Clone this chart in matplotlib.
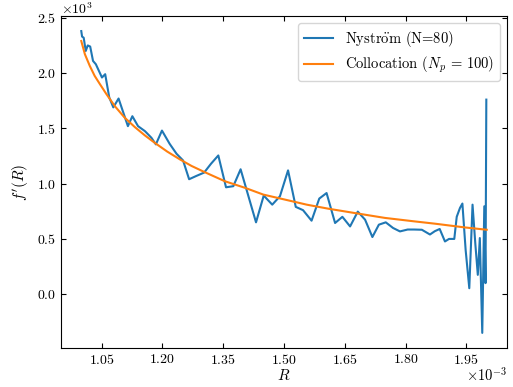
import matplotlib
matplotlib.use("Agg")
import matplotlib.pyplot as plt

plt.rcParams['font.family'] = ['cmr10', 'DejaVu Serif']
plt.rcParams['mathtext.fontset'] = 'cm'
plt.rcParams['axes.formatter.use_mathtext'] = True
plt.rcParams['axes.unicode_minus'] = False
plt.rcParams['font.size'] = 10

# Nystrom solution (R in units of 1e-3, f' in units of 1e3)
nys_R = [1.000, 1.002, 1.006, 1.011, 1.016, 1.022, 1.029, 1.036, 1.051, 1.059,
         1.069, 1.079, 1.092, 1.115, 1.126, 1.140, 1.157, 1.173, 1.184, 1.199,
         1.218, 1.235, 1.251, 1.266, 1.284, 1.303, 1.320, 1.338, 1.357, 1.375,
         1.393, 1.412, 1.431, 1.450, 1.471, 1.490, 1.510, 1.529, 1.547, 1.568,
         1.587, 1.605, 1.626, 1.644, 1.663, 1.682, 1.700, 1.718, 1.734, 1.751,
         1.769, 1.786, 1.805, 1.821, 1.840, 1.860, 1.872, 1.884, 1.897, 1.907,
         1.920, 1.926, 1.934, 1.940, 1.948, 1.957, 1.965, 1.972, 1.978, 1.983,
         1.989, 1.994, 1.997, 1.999]
nys_f = [2.38, 2.33, 2.32, 2.20, 2.25, 2.24, 2.11, 2.08, 1.96, 1.99,
         1.78, 1.69, 1.77, 1.52, 1.61, 1.52, 1.475, 1.415, 1.355, 1.48,
         1.36, 1.27, 1.21, 1.04, 1.07, 1.10, 1.18, 1.255, 0.967, 0.977,
         1.13, 0.89, 0.65, 0.892, 0.81, 0.886, 1.12, 0.79, 0.76, 0.665,
         0.865, 0.915, 0.644, 0.70, 0.613, 0.747, 0.674, 0.517, 0.629, 0.65,
         0.599, 0.568, 0.585, 0.585, 0.583, 0.54, 0.57, 0.59, 0.477, 0.50,
         0.50, 0.70, 0.78, 0.82, 0.40, 0.054, 0.81, 0.45, 0.175, 0.508,
         -0.35, 0.795, 0.10, 1.76]

# Collocation solution
col_R = [1.000, 1.009, 1.021, 1.033, 1.046, 1.062, 1.083, 1.107, 1.132, 1.157,
         1.181, 1.212, 1.243, 1.272, 1.305, 1.354, 1.404, 1.449, 1.502, 1.556,
         1.610, 1.683, 1.749, 1.821, 1.872, 1.946, 2.000]
col_f = [2.29, 2.17, 2.065, 1.975, 1.90, 1.81, 1.70, 1.597, 1.512, 1.436,
         1.37, 1.29, 1.22, 1.16, 1.103, 1.022, 0.962, 0.901, 0.856, 0.81,
         0.773, 0.729, 0.69, 0.659, 0.638, 0.604, 0.583]

x_ticks = [1.05, 1.20, 1.35, 1.50, 1.65, 1.80, 1.95]

fig = plt.figure(figsize=(5.13, 3.87), dpi=100)
ax = fig.add_axes([0.1189, 0.1008, 0.8694, 0.8579])

ax.plot([r * 1e-3 for r in nys_R], [v * 1e3 for v in nys_f], color='#1f77b4', lw=1.5,
        label='Nystr$\\ddot{\\mathrm{o}}$m (N=80)')
ax.plot([r * 1e-3 for r in col_R], [v * 1e3 for v in col_f], color='#ff7f0e', lw=1.5,
        label='Collocation ($N_p\\,=\\,100$)')

ax.set_xticks([t * 1e-3 for t in x_ticks])
ax.ticklabel_format(style='sci', axis='both', scilimits=(0, 0))
ax.tick_params(direction='in', top=True, right=True, labelsize=10)
ax.xaxis.get_offset_text().set_visible(False)
ax.yaxis.get_offset_text().set_visible(False)
ax.text(0.0, 1.005, '$\\times10^{3}$', transform=ax.transAxes, ha='left', va='baseline',
        fontsize=10)
ax.text(1.0, -0.054, '$\\times10^{-3}$', transform=ax.transAxes, ha='right', va='top',
        fontsize=10.5)
ax.set_xlabel('$R$', fontsize=11, labelpad=1)
ax.set_ylabel("$f'(R)$", fontsize=11)
ax.legend(loc='upper right', fontsize=10.5, labelspacing=0.4, handlelength=2.0)

fig.savefig('out.png', dpi=100)
